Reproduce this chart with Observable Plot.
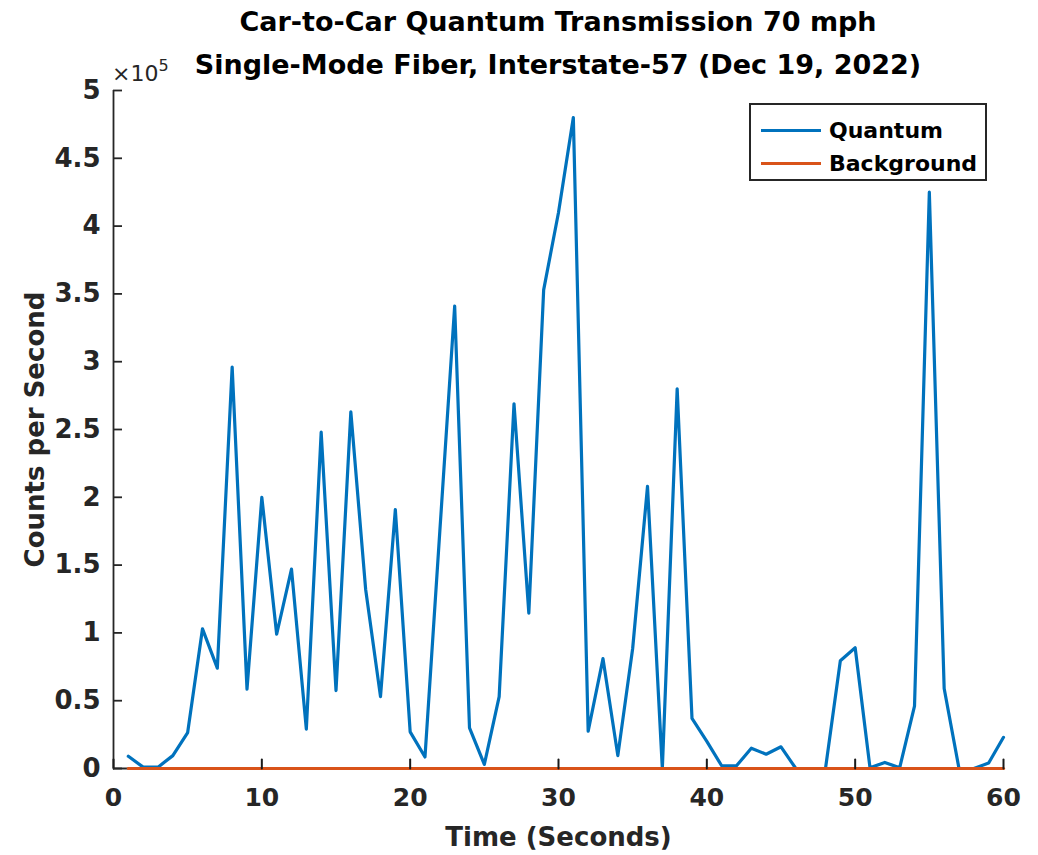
<!DOCTYPE html>
<html>
<head>
<meta charset="utf-8">
<script src="https://cdn.jsdelivr.net/npm/d3@7"></script>
<script src="https://cdn.jsdelivr.net/npm/@observablehq/plot@0.6"></script>
<style>
  html, body { margin: 0; padding: 0; background: #fff; }
  #wrap { position: relative; width: 1038px; height: 855px; font-family: "DejaVu Sans", sans-serif; }
  #title { height: 60px; width: 890px; margin-left: 113px; text-align: center; font-weight: bold; color: #000; font-size: 27px; position: relative; }
  #title .l1 { position: absolute; left: 0; right: 0; top: 6px; line-height: 32px; }
  #title .l2 { position: absolute; left: 0; right: 0; top: 49px; line-height: 32px; }
  #exp { position: absolute; left: 112px; top: 58px; font-size: 22px; color: #262626; }
  #exp sup { font-size: 16px; position: relative; top: -2px; }
  #legend { position: absolute; left: 749px; top: 103px; width: 234px; height: 74px; border: 2px solid #262626; background: #fff; font-weight: bold; font-size: 22px; color: #000; }
  #legend .row { position: absolute; left: 10px; height: 30px; display: flex; align-items: center; }
  #legend .sw { width: 60px; height: 3px; margin-right: 8px; }
</style>
</head>
<body>
<div id="wrap">
  <div id="title">
    <div class="l1">Car-to-Car Quantum Transmission 70 mph</div>
    <div class="l2">Single-Mode Fiber, Interstate-57 (Dec 19, 2022)</div>
  </div>
  <div id="chart"></div>
  <div id="exp">×10<sup>5</sup></div>
  <div id="legend">
    <div class="row" style="top:10px"><div class="sw" style="background:#0072BD"></div>Quantum</div>
    <div class="row" style="top:43px"><div class="sw" style="background:#D95319"></div>Background</div>
  </div>
</div>
<script>
const seconds = [1,2,3,4,5,6,7,8,9,10,11,12,13,14,15,16,17,18,19,20,21,22,23,24,25,26,27,28,29,30,31,32,33,34,35,36,37,38,39,40,41,42,43,44,45,46,47,48,49,50,51,52,53,54,55,56,57,58,59,60];
const quantum = [9000,1000,1000,9500,26500,103000,74000,296000,58500,200000,
                 99000,147000,29000,248000,57500,263000,132000,53000,191000,27000,
                 8500,175000,341000,30000,3000,53000,269000,114500,353000,410000,
                 480000,27500,81000,9500,88500,208000,0,280000,37000,20000,
                 2000,2000,15000,10500,16000,0,0,0,79500,89000,
                 500,4500,500,46000,425000,59000,0,0,4000,23000];
const background = [0,0,0,0,0,0,0,0,0,0,0,0,0,0,0,0,0,0,0,0,0,0,0,0,0,0,0,0,0,0,
                    0,0,0,0,0,0,0,0,0,0,0,0,0,0,0,0,0,0,0,0,0,0,0,0,0,0,0,0,0,0];
const xTicks = [0,10,20,30,40,50,60];
const yTicks = [0,50000,100000,150000,200000,250000,300000,350000,400000,450000,500000];
const yTickLabels = ["0","0.5","1","1.5","2","2.5","3","3.5","4","4.5","5"];

const rows = seconds.map((t, i) => ({t, q: quantum[i], b: background[i]}));
const axisColor = "#262626";
const tickShape = {draw(context, l) { context.moveTo(0, 0); context.lineTo(0, -l); }};

const chart = Plot.plot({
  width: 1038,
  height: 795,
  marginLeft: 113,
  marginRight: 35,
  marginTop: 30,
  marginBottom: 87,
  style: {fontFamily: "DejaVu Sans", fontWeight: "bold", fontSize: "25px", color: axisColor, background: "white"},
  x: {domain: [0, 60]},
  y: {domain: [0, 500000]},
  marks: [
    // tick labels
    Plot.axisX(xTicks, {tickSize: 0, tickPadding: 20, label: null, fontSize: 25}),
    Plot.axisY(yTicks, {tickSize: 0, tickPadding: 13, label: null, fontSize: 26,
      tickFormat: d => yTickLabels[yTicks.indexOf(d)]}),
    // axis titles
    Plot.axisX({ticks: [], tickSize: 0, label: "Time (Seconds)", labelAnchor: "center", labelArrow: "none", labelOffset: 77, fontSize: 26}),
    Plot.axisY({ticks: [], tickSize: 0, label: "Counts per Second", labelAnchor: "center", labelArrow: "none", labelOffset: 88, fontSize: 26}),
    Plot.ruleX([0], {stroke: axisColor, strokeWidth: 1.8}),
    Plot.ruleY([0], {stroke: axisColor, strokeWidth: 1.8}),
    Plot.line(rows, {x: "t", y: "q", stroke: "#0072BD", strokeWidth: 3.2}),
    Plot.line(rows, {x: "t", y: "b", stroke: "#D95319", strokeWidth: 3.2}),
    // inward tick marks
    Plot.vector(xTicks, {x: d => d, y: () => 0, rotate: 0, length: 9, anchor: "start",
      shape: tickShape, stroke: "#1a1a1a", strokeWidth: 2}),
    Plot.ruleY(yTicks, {y: d => d, x1: 0, x2: 0, insetRight: -9, stroke: axisColor, strokeWidth: 1.8})
  ]
});
document.getElementById("chart").appendChild(chart);
</script>
</body>
</html>
